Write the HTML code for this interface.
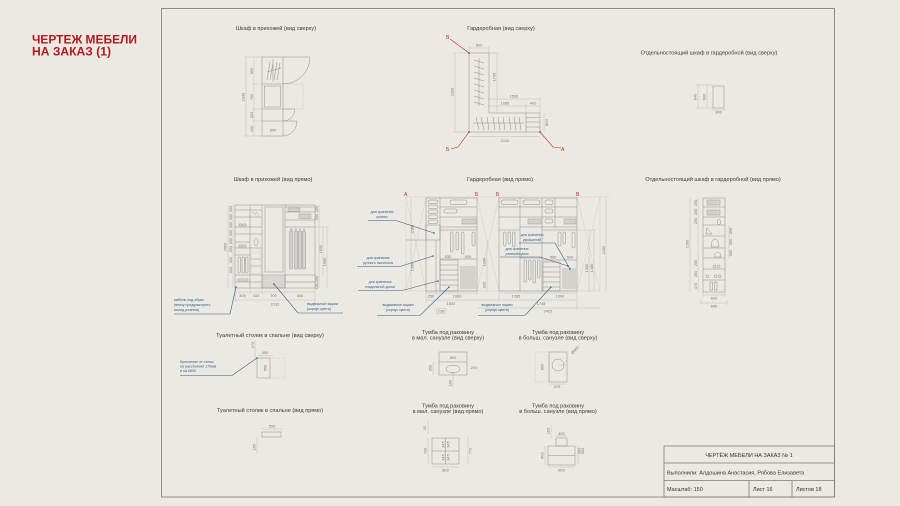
<!DOCTYPE html>
<html><head><meta charset="utf-8">
<style>
html,body{margin:0;padding:0;background:#ECE9E3;width:900px;height:506px;overflow:hidden}
svg{display:block}
.l{stroke:#8c8c8c;stroke-width:.5;fill:none}
.d{stroke:#adadad;stroke-width:.35;fill:none}
.dd{stroke:#a8a8a8;stroke-width:.35;fill:none;stroke-dasharray:1.2 1}
.g{fill:#d9d7d2;stroke:#8c8c8c;stroke-width:.4}
.t{font-family:"Liberation Sans",sans-serif;font-size:5.6px;fill:#3a3a3a}
.n{font-family:"Liberation Sans",sans-serif;font-size:3.9px;fill:#767676}
.b{stroke:#2f5d8a;stroke-width:.6;fill:none}
.bt{font-family:"Liberation Sans",sans-serif;font-size:3.6px;fill:#2f5d8a}
.r{stroke:#c0282c;stroke-width:.6;fill:none}
.rt{font-family:"Liberation Sans",sans-serif;font-size:5.2px;fill:#c0282c}
.tb{font-family:"Liberation Sans",sans-serif;font-size:5.5px;fill:#333}
</style></head><body>
<svg width="900" height="506" viewBox="0 0 900 506" xmlns="http://www.w3.org/2000/svg">
<rect x="0" y="0" width="900" height="506" fill="#ECE9E3"/>

<!-- Red title -->
<text x="32" y="43.5" font-family="Liberation Sans, sans-serif" font-weight="bold" font-size="12" fill="#B3191F" textLength="105" lengthAdjust="spacingAndGlyphs">ЧЕРТЕЖ МЕБЕЛИ</text>
<text x="32" y="55.3" font-family="Liberation Sans, sans-serif" font-weight="bold" font-size="12" fill="#B3191F" textLength="79" lengthAdjust="spacingAndGlyphs">НА ЗАКАЗ (1)</text>

<!-- Frame -->
<rect x="161.5" y="8.5" width="673" height="488.5" fill="none" stroke="#858380" stroke-width="0.9"/>

<!-- Title block -->
<g stroke="#7d7a76" stroke-width="0.8" fill="none">
<rect x="664" y="446" width="170.5" height="51"/>
<line x1="664" y1="463" x2="834.5" y2="463"/>
<line x1="664" y1="480.5" x2="834.5" y2="480.5"/>
<line x1="749" y1="480.5" x2="749" y2="497"/>
<line x1="792" y1="480.5" x2="792" y2="497"/>
</g>
<text class="tb" x="749" y="457" text-anchor="middle">ЧЕРТЁЖ МЕБЕЛИ НА ЗАКАЗ № 1</text>
<text class="tb" x="667" y="474.5">Выполнили: Алдошина Анастасия, Рябова Елизавета</text>
<text class="tb" x="667" y="491">Масштаб: 150</text>
<text class="tb" x="753" y="491">Лист 16</text>
<text class="tb" x="796" y="491">Листов 18</text>

<!-- ========== 1. Hallway wardrobe top view ========== -->
<text class="t" x="276" y="30" text-anchor="middle">Шкаф в прихожей (вид сверху)</text>
<rect class="l" x="262" y="57" width="21" height="79"/>
<line class="l" x1="262" y1="84" x2="283" y2="84"/>
<line class="l" x1="262" y1="109" x2="283" y2="109"/>
<line class="l" x1="262" y1="121" x2="283" y2="121"/>
<rect class="l" x="264.5" y="86" width="16" height="21"/>
<rect class="dd" x="283" y="84" width="20" height="25"/>
<path class="l" d="M283 57H310A27 27 0 0 1 283 84"/>
<path class="l" d="M283 109H295A12 12 0 0 1 283 121"/>
<path class="l" d="M283 121H297A14 15 0 0 1 283 136"/>
<line class="l" x1="273" y1="59" x2="273" y2="82"/>
<path class="l" d="M267 80L270 62M270 80L273 63M274 80L277 62M277 80L280 63M267 72L281 68"/>
<line class="d" x1="246" y1="57" x2="246" y2="136"/>
<line class="d" x1="254" y1="57" x2="254" y2="136"/>
<line class="d" x1="244" y1="57" x2="262" y2="57"/>
<line class="d" x1="244" y1="136" x2="262" y2="136"/>
<line class="d" x1="252" y1="84" x2="262" y2="84"/>
<line class="d" x1="252" y1="109" x2="262" y2="109"/>
<line class="d" x1="252" y1="121" x2="262" y2="121"/>
<text class="n" transform="translate(244.5,97) rotate(-90)" text-anchor="middle">2333</text>
<text class="n" transform="translate(252.8,71) rotate(-90)" text-anchor="middle">800</text>
<text class="n" transform="translate(252.8,97) rotate(-90)" text-anchor="middle">700</text>
<text class="n" transform="translate(252.8,115) rotate(-90)" text-anchor="middle">333</text>
<text class="n" transform="translate(252.8,129) rotate(-90)" text-anchor="middle">400</text>
<text class="n" x="273" y="131.5" text-anchor="middle">600</text>

<!-- ========== 2. Garderobnaya top view ========== -->
<text class="t" x="501" y="30" text-anchor="middle">Гардеробная (вид сверху)</text>
<path class="l" d="M469 53H489V113H540V132H469Z"/>
<line class="l" x1="526" y1="113" x2="526" y2="132"/>
<line class="l" x1="526" y1="117.5" x2="540" y2="117.5"/>
<line class="l" x1="526" y1="122" x2="540" y2="122"/>
<line class="l" x1="526" y1="127" x2="540" y2="127"/>
<line class="l" x1="479" y1="58" x2="479" y2="106"/>
<path class="l" d="M474 60L484 63M474 66L484 69M474 72L484 75M474 78L484 81M474 84L484 87M474 90L484 93M474 96L484 99M474 102L484 105"/>
<line class="l" x1="473" y1="123" x2="524" y2="123"/>
<path class="l" d="M476 117L479 130M481 117L484 130M487 117L489 130M493 117L495 130M498 117L500 130M503 117L505 130M509 117L511 130M514 117L516 130M519 117L521 130"/>
<line class="d" x1="469" y1="48" x2="489" y2="48"/>
<line class="d" x1="469" y1="46" x2="469" y2="53"/><line class="d" x1="489" y1="46" x2="489" y2="53"/>
<text class="n" x="479" y="46.5" text-anchor="middle">600</text>
<line class="d" x1="455" y1="53" x2="455" y2="132"/>
<line class="d" x1="453" y1="53" x2="469" y2="53"/><line class="d" x1="453" y1="132" x2="469" y2="132"/>
<text class="n" transform="translate(453.5,92) rotate(-90)" text-anchor="middle">2335</text>
<line class="d" x1="497" y1="53" x2="497" y2="113"/>
<line class="d" x1="489" y1="53" x2="499" y2="53"/>
<text class="n" transform="translate(495.5,77) rotate(-90)" text-anchor="middle">1735</text>
<line class="d" x1="488" y1="99" x2="540" y2="99"/>
<line class="d" x1="488" y1="106" x2="540" y2="106"/>
<line class="d" x1="540" y1="97" x2="540" y2="113"/>
<line class="d" x1="526" y1="104" x2="526" y2="113"/>
<text class="n" x="514" y="97.5" text-anchor="middle">1520</text>
<text class="n" x="505" y="104.5" text-anchor="middle">1080</text>
<text class="n" x="533" y="104.5" text-anchor="middle">400</text>
<line class="d" x1="544" y1="113" x2="544" y2="132"/>
<text class="n" transform="translate(548,122.5) rotate(-90)" text-anchor="middle">600</text>
<line class="d" x1="469" y1="136.5" x2="540" y2="136.5"/>
<text class="n" x="505" y="142" text-anchor="middle">2120</text>
<polyline class="r" points="450,39 469,53"/>
<polyline class="r" points="469,132 458,147 451,149"/>
<polyline class="r" points="540,132 553,147 561,148"/>
<circle cx="469" cy="53" r="0.9" fill="#c0282c"/>
<circle cx="469" cy="132" r="0.9" fill="#c0282c"/>
<circle cx="540" cy="132" r="0.9" fill="#c0282c"/>
<text class="rt" x="446" y="39" font-size="4">В</text>
<text class="rt" x="446" y="151" font-size="4">Б</text>
<text class="rt" x="561" y="151" font-size="4">А</text>

<!-- ========== 3. Freestanding top view ========== -->
<text class="t" x="709" y="54.5" text-anchor="middle">Отдельностоящий шкаф в гардеробной (вид сверху)</text>
<rect class="l" x="713" y="86" width="11" height="22"/>
<line class="d" x1="698" y1="85" x2="698" y2="108"/>
<line class="d" x1="707" y1="86" x2="707" y2="108"/>
<line class="d" x1="696" y1="85" x2="713" y2="85"/>
<line class="d" x1="696" y1="108" x2="713" y2="108"/>
<text class="n" transform="translate(696.5,97) rotate(-90)" text-anchor="middle">640</text>
<text class="n" transform="translate(705.5,97) rotate(-90)" text-anchor="middle">600</text>
<line class="d" x1="711" y1="110" x2="726" y2="110"/>
<text class="n" x="718.5" y="113.5" text-anchor="middle">300</text>

<!-- ========== 4. Hallway wardrobe front ========== -->
<text class="t" x="273" y="181" text-anchor="middle">Шкаф в прихожей (вид прямо)</text>
<rect class="g" x="262" y="275" width="23" height="13"/>
<rect class="l" x="235" y="205" width="80" height="83"/>
<line class="l" x1="250" y1="205" x2="250" y2="288"/>
<line class="l" x1="262" y1="205" x2="262" y2="288"/>
<line class="l" x1="285" y1="205" x2="285" y2="288"/>
<rect class="l" x="265" y="207" width="18" height="65"/>
<g class="l">
<line x1="235" y1="210" x2="262" y2="210"/>
<line x1="235" y1="217" x2="262" y2="217"/>
<line x1="235" y1="227" x2="262" y2="227"/>
<line x1="235" y1="234" x2="262" y2="234"/>
<line x1="235" y1="242" x2="250" y2="242"/>
<line x1="235" y1="248" x2="262" y2="248"/>
<line x1="235" y1="255" x2="250" y2="255"/>
<line x1="235" y1="275" x2="262" y2="275"/>
<line x1="235" y1="282" x2="262" y2="282"/>
<line x1="285" y1="207" x2="315" y2="207"/>
<line x1="285" y1="212" x2="315" y2="212"/>
<line x1="285" y1="220" x2="315" y2="220"/>
<line x1="285" y1="227" x2="315" y2="227"/>
<line x1="285" y1="275" x2="315" y2="275"/>
<line x1="285" y1="282" x2="315" y2="282"/>
</g>
<rect class="g" x="288" y="208" width="12" height="3.5"/>
<rect class="g" x="299" y="214" width="12" height="4.5"/>
<path class="d" d="M290 208v3.5M292 208v3.5M294 208v3.5M296 208v3.5M298 208v3.5M301 214v4.5M303 214v4.5M305 214v4.5M307 214v4.5M309 214v4.5"/>
<!-- coats -->
<g class="l">
<path d="M291 229v40M290 229h2M293.5 231l-2 -2"/>
<path d="M296 229v40M295 229h2"/>
<path d="M300 229v40M299 229h2"/>
<path d="M304 229v40M303 229h2"/>
<rect x="289.5" y="231" width="3" height="38" rx="1"/>
<rect x="294.5" y="231" width="3" height="38" rx="1"/>
<rect x="298.5" y="231" width="3" height="38" rx="1"/>
<rect x="302.5" y="231" width="3" height="38" rx="1"/>
</g>
<!-- shoes / items left -->
<g class="l">
<rect x="238" y="257" width="2.5" height="16" rx="1"/>
<rect x="242" y="257" width="2.5" height="16" rx="1"/>
<rect x="245.5" y="257" width="2.5" height="16" rx="1"/>
<path d="M239 224h3v2h-3zM243 224h3v2h-3z"/>
<path d="M239 245h3v2h-3zM243 245h3v2h-3z"/>
<path d="M252 212c2 0 3 3 4 3M256 212c1 1 2 3 3 3"/>
<ellipse cx="256" cy="242" rx="2" ry="4"/>
<rect class="dd" x="251" y="252" width="10" height="22"/>
<line x1="251" y1="259" x2="261" y2="259"/>
<line x1="251" y1="266" x2="261" y2="266"/>
<path d="M238 279h10v2h-10z"/>
</g>
<!-- dims -->
<line class="d" x1="228" y1="205" x2="228" y2="288"/>
<line class="d" x1="233" y1="205" x2="233" y2="288"/>
<text class="n" transform="translate(226.5,247) rotate(-90)" text-anchor="middle">2560</text>
<text class="n" transform="translate(231.8,209) rotate(-90)" text-anchor="middle" font-size="3.3">250</text>
<text class="n" transform="translate(231.8,217) rotate(-90)" text-anchor="middle" font-size="3.3">250</text>
<text class="n" transform="translate(231.8,225) rotate(-90)" text-anchor="middle" font-size="3.3">250</text>
<text class="n" transform="translate(231.8,233) rotate(-90)" text-anchor="middle" font-size="3.3">250</text>
<text class="n" transform="translate(231.8,241) rotate(-90)" text-anchor="middle" font-size="3.3">250</text>
<text class="n" transform="translate(231.8,249) rotate(-90)" text-anchor="middle" font-size="3.3">250</text>
<text class="n" transform="translate(231.8,260) rotate(-90)" text-anchor="middle" font-size="3.3">300</text>
<text class="n" transform="translate(231.8,270) rotate(-90)" text-anchor="middle" font-size="3.3">300</text>
<line class="d" x1="319" y1="205" x2="319" y2="288"/>
<line class="d" x1="323" y1="227" x2="323" y2="275"/>
<line class="d" x1="327" y1="227" x2="327" y2="288"/>
<line class="d" x1="315" y1="227" x2="329" y2="227"/>
<text class="n" transform="translate(318,209) rotate(-90)" text-anchor="middle" font-size="3.3">250</text>
<text class="n" transform="translate(318,217) rotate(-90)" text-anchor="middle" font-size="3.3">250</text>
<text class="n" transform="translate(322,249) rotate(-90)" text-anchor="middle" font-size="3.3">1650</text>
<text class="n" transform="translate(326,262) rotate(-90)" text-anchor="middle" font-size="3.3">1900</text>
<text class="n" transform="translate(318,279) rotate(-90)" text-anchor="middle" font-size="3.3">250</text>
<text class="n" transform="translate(318,286) rotate(-90)" text-anchor="middle" font-size="3.3">150</text>
<line class="d" x1="235" y1="292" x2="315" y2="292"/>
<line class="d" x1="235" y1="300" x2="315" y2="300"/>
<path class="d" d="M235 288v14M250 288v6M262 288v6M285 288v6M315 288v14"/>
<text class="n" x="242.5" y="297.2" text-anchor="middle">400</text>
<text class="n" x="256" y="297.2" text-anchor="middle">333</text>
<text class="n" x="273.5" y="297.2" text-anchor="middle">700</text>
<text class="n" x="300" y="297.2" text-anchor="middle">800</text>
<text class="n" x="275" y="305.3" text-anchor="middle">2133</text>
<!-- leaders -->
<text class="bt" x="174" y="301">мебель под обувь</text>
<text class="bt" x="174" y="306">(внизу предусмотреть</text>
<text class="bt" x="174" y="311">выход розетки)</text>
<polyline class="b" points="174,314 230,314 236,287"/>
<circle cx="236" cy="287" r="0.8" fill="#2f5d8a"/>
<text class="bt" x="307" y="305">выдвижные ящики</text>
<text class="bt" x="307" y="310">(корпус цвета)</text>
<polyline class="b" points="343,313 298,313 274,284"/>
<circle cx="274" cy="284" r="0.8" fill="#2f5d8a"/>

<!-- ========== 5. Garderobnaya front ========== -->
<text class="t" x="500" y="181" text-anchor="middle">Гардеробная (вид прямо)</text>
<text class="rt" x="404" y="196">А</text>
<text class="rt" x="475" y="196">Б</text>
<text class="rt" x="496" y="196">Б</text>
<text class="rt" x="576" y="196">В</text>
<line class="dd" x1="406" y1="197" x2="610" y2="197"/>
<line class="dd" x1="406" y1="197" x2="406" y2="291"/>
<line class="dd" x1="406" y1="197" x2="426" y2="291"/>
<line class="dd" x1="426" y1="197" x2="406" y2="291"/>
<line class="dd" x1="477" y1="197" x2="499" y2="291"/>
<line class="dd" x1="499" y1="197" x2="477" y2="291"/>
<line class="dd" x1="577" y1="197" x2="600" y2="291"/>
<line class="dd" x1="600" y1="197" x2="577" y2="291"/>
<line class="dd" x1="600" y1="197" x2="600" y2="291"/>
<line class="dd" x1="406" y1="291" x2="600" y2="291"/>
<line class="l" x1="406" y1="240" x2="426" y2="240"/>
<!-- left unit -->
<rect class="l" x="426" y="198" width="51" height="93"/>
<line class="l" x1="440" y1="198" x2="440" y2="291"/>
<rect class="l" x="426" y="225" width="14" height="15"/>
<line class="l" x1="436" y1="240" x2="436" y2="291"/>
<g class="l">
<rect x="428" y="200" width="10" height="3.5" rx="1.5"/>
<rect x="428" y="205" width="10" height="3.5" rx="1.5"/>
<rect x="428" y="210" width="10" height="3.5" rx="1.5"/>
<rect x="428" y="215" width="10" height="3.5" rx="1.5"/>
<rect x="428" y="220" width="10" height="3.5" rx="1.5"/>
<line x1="440" y1="207" x2="477" y2="207"/>
<line x1="440" y1="217" x2="477" y2="217"/>
<line x1="440" y1="227" x2="477" y2="227"/>
<line x1="440" y1="230" x2="477" y2="230"/>
<rect x="450" y="200" width="17" height="4.5" rx="2"/>
<rect x="444" y="209" width="13" height="4" rx="1.5"/>
<line x1="440" y1="259" x2="477" y2="259"/>
<rect x="440" y="260" width="18" height="31"/>
<line x1="440" y1="265" x2="458" y2="265"/>
<line x1="440" y1="270" x2="458" y2="270"/>
<line x1="440" y1="275" x2="458" y2="275"/>
<line x1="440" y1="280" x2="458" y2="280"/>
<line x1="440" y1="285" x2="458" y2="285"/>
<rect x="450.5" y="232" width="2.5" height="20" rx="1"/>
<rect x="456" y="232" width="2.5" height="18" rx="1"/>
<rect x="461.5" y="232" width="2.5" height="22" rx="1"/>
<rect x="472" y="232" width="3" height="14" rx="1.3"/>
</g>
<rect class="g" x="462" y="219" width="14" height="5"/>
<path class="d" d="M464 219v5M466 219v5M468 219v5M470 219v5M472 219v5M474 219v5"/>
<path class="l" d="M461 266v23M463 266v23M465 266v23M467 266v23M469 266v23M471 266v23M473 266v23M475 266v23"/>
<!-- right unit -->
<rect class="l" x="499" y="198" width="78" height="93"/>
<line class="l" x1="520" y1="198" x2="520" y2="291"/>
<line class="l" x1="542" y1="198" x2="542" y2="291"/>
<g class="l">
<line x1="499" y1="207" x2="577" y2="207"/>
<line x1="499" y1="217" x2="577" y2="217"/>
<line x1="520" y1="227" x2="577" y2="227"/>
<line x1="499" y1="230" x2="520" y2="230"/>
<line x1="542" y1="230" x2="577" y2="230"/>
<line x1="520" y1="258" x2="542" y2="258"/>
<line x1="555" y1="198" x2="555" y2="227"/>
<rect x="501" y="200" width="17" height="4.5" rx="2"/>
<rect x="523" y="200" width="17" height="4.5" rx="2"/>
<rect x="545" y="200" width="8" height="4.5" rx="1.5"/>
<rect x="545" y="209" width="8" height="4" rx="1.5"/>
<rect x="545" y="219" width="8" height="4" rx="1.5"/>
<rect x="503.5" y="232" width="2.5" height="14" rx="1"/>
<rect x="508" y="232" width="2.5" height="12" rx="1"/>
<rect x="512.5" y="232" width="2.5" height="15" rx="1"/>
<rect x="524" y="260" width="2.5" height="22" rx="1"/>
<rect x="528.5" y="260" width="2.5" height="20" rx="1"/>
<rect x="533" y="260" width="2.5" height="23" rx="1"/>
<rect x="537.5" y="260" width="2.5" height="18" rx="1"/>
<rect x="558" y="232" width="3" height="14" rx="1.3"/>
<rect x="563" y="232" width="2.5" height="12" rx="1"/>
<rect x="572" y="232" width="3" height="16" rx="1.3"/>
<line x1="542" y1="260" x2="577" y2="260"/>
<rect x="543" y="262" width="17" height="29"/>
<line x1="543" y1="267" x2="560" y2="267"/>
<line x1="543" y1="272" x2="560" y2="272"/>
<line x1="543" y1="277" x2="560" y2="277"/>
<line x1="543" y1="282" x2="560" y2="282"/>
<line x1="543" y1="287" x2="560" y2="287"/>
</g>
<rect class="g" x="528" y="219" width="13" height="5"/>
<rect class="g" x="564" y="219" width="12" height="5"/>
<path class="d" d="M530 219v5M532 219v5M534 219v5M536 219v5M538 219v5M566 219v5M568 219v5M570 219v5M572 219v5M574 219v5"/>
<path class="l" d="M563 268v21M565 268v21M567 268v21M569 268v21M571 268v21M573 268v21M575 268v21"/>
<!-- dims garderobnaya front -->
<line class="d" x1="426" y1="293" x2="477" y2="293"/>
<line class="d" x1="426" y1="300" x2="499" y2="300"/>
<path class="d" d="M426 291v11M436 291v4M477 291v4"/>
<text class="n" x="431" y="297.5" text-anchor="middle">250</text>
<text class="n" x="457" y="297.5" text-anchor="middle">1060</text>
<text class="n" x="451" y="305" text-anchor="middle">1520</text>
<rect class="d" x="436.5" y="308.5" width="9" height="5"/>
<text class="n" x="441" y="312.5" text-anchor="middle">730</text>
<line class="d" x1="499" y1="293" x2="577" y2="293"/>
<line class="d" x1="499" y1="300" x2="577" y2="300"/>
<line class="d" x1="477" y1="308" x2="600" y2="308"/>
<path class="d" d="M499 291v11M542 291v4M577 291v19"/>
<text class="n" x="516" y="297.5" text-anchor="middle">1285</text>
<text class="n" x="560" y="297.5" text-anchor="middle">1000</text>
<text class="n" x="541" y="305" text-anchor="middle">1745</text>
<text class="n" x="548" y="312.5" text-anchor="middle">2425</text>
<text class="n" x="448" y="258" text-anchor="middle" font-size="3.4">530</text>
<text class="n" x="468" y="258" text-anchor="middle" font-size="3.4">530</text>
<text class="n" x="553" y="258.5" text-anchor="middle" font-size="3.4">500</text>
<text class="n" x="570" y="258.5" text-anchor="middle" font-size="3.4">500</text>
<line class="d" x1="411" y1="198" x2="411" y2="291"/>
<text class="n" transform="translate(413.5,229) rotate(-90)" text-anchor="middle">2160</text>
<text class="n" transform="translate(413.5,267) rotate(-90)" text-anchor="middle">1390</text>
<line class="d" x1="487" y1="240" x2="487" y2="291"/>
<text class="n" transform="translate(485.5,262) rotate(-90)" text-anchor="middle">1390</text>
<text class="n" transform="translate(485.5,285) rotate(-90)" text-anchor="middle">920</text>
<line class="d" x1="589" y1="230" x2="589" y2="291"/>
<line class="d" x1="594" y1="230" x2="594" y2="291"/>
<line class="d" x1="606" y1="198" x2="606" y2="291"/>
<line class="d" x1="577" y1="230" x2="596" y2="230"/>
<text class="n" transform="translate(588,268) rotate(-90)" text-anchor="middle">1390</text>
<text class="n" transform="translate(593,268) rotate(-90)" text-anchor="middle">1480</text>
<text class="n" transform="translate(605,250) rotate(-90)" text-anchor="middle">2160</text>
<!-- leaders garderobnaya -->
<text class="bt" x="382" y="213" text-anchor="middle">для хранения</text>
<text class="bt" x="382" y="218" text-anchor="middle">шляпы</text>
<polyline class="b" points="368,220.5 396,220.5 434,233"/>
<circle cx="434" cy="233" r="0.8" fill="#2f5d8a"/>
<text class="bt" x="378" y="259" text-anchor="middle">для хранения</text>
<text class="bt" x="378" y="264" text-anchor="middle">ручного пылесоса</text>
<polyline class="b" points="357,266.5 400,266.5 433,256"/>
<circle cx="433" cy="256" r="0.8" fill="#2f5d8a"/>
<text class="bt" x="380" y="283" text-anchor="middle">для хранения</text>
<text class="bt" x="380" y="288" text-anchor="middle">гладильной доски</text>
<polyline class="b" points="358,290.5 402,290.5 438,281"/>
<circle cx="438" cy="281" r="0.8" fill="#2f5d8a"/>
<text class="bt" x="398" y="306" text-anchor="middle">выдвижные ящики</text>
<text class="bt" x="398" y="311" text-anchor="middle">(корпус цвета)</text>
<polyline class="b" points="377,315.5 420,315.5 449,287"/>
<circle cx="449" cy="287" r="0.8" fill="#2f5d8a"/>
<text class="bt" x="497" y="306" text-anchor="middle">выдвижные ящики</text>
<text class="bt" x="497" y="311" text-anchor="middle">(корпус цвета)</text>
<polyline class="b" points="478,315.5 525,315.5 551,287"/>
<circle cx="551" cy="287" r="0.8" fill="#2f5d8a"/>
<text class="bt" x="532" y="236" text-anchor="middle">для хранения</text>
<text class="bt" x="532" y="241" text-anchor="middle">украшений</text>
<polyline class="b" points="519,243 555,243 570,269"/>
<circle cx="570" cy="269" r="0.8" fill="#2f5d8a"/>
<text class="bt" x="517" y="250" text-anchor="middle">для хранения</text>
<text class="bt" x="517" y="255" text-anchor="middle">ремней/сумок</text>
<polyline class="b" points="500,257 540,257 568,266"/>
<circle cx="568" cy="266" r="0.8" fill="#2f5d8a"/>

<!-- ========== 6. Freestanding front ========== -->
<text class="t" x="713" y="181" text-anchor="middle">Отдельностоящий шкаф в гардеробной (вид прямо)</text>
<rect class="l" x="703" y="198" width="22" height="94"/>
<g class="l">
<line x1="703" y1="207" x2="725" y2="207"/>
<line x1="703" y1="217" x2="725" y2="217"/>
<line x1="703" y1="225" x2="725" y2="225"/>
<line x1="703" y1="236" x2="725" y2="236"/>
<line x1="703" y1="248" x2="725" y2="248"/>
<line x1="703" y1="258" x2="725" y2="258"/>
<line x1="703" y1="269" x2="725" y2="269"/>
<line x1="703" y1="280" x2="725" y2="280"/>
<ellipse cx="719" cy="222" rx="1.8" ry="2.5"/>
<path d="M706 234l1-6 5 6z"/>
<path d="M711 247c0-5 2-8 4-8s4 3 4 8z"/>
<path d="M714 257c0-3 2-5 3.5-5s3.5 2 3.5 5z"/>
<rect x="713" y="265" width="3" height="2.5" rx="1"/>
<rect x="717" y="265" width="3" height="2.5" rx="1"/>
<rect x="706" y="275" width="3" height="2.5" rx="1"/>
<rect x="714" y="275" width="3" height="2.5" rx="1"/>
<rect x="718" y="275" width="3" height="2.5" rx="1"/>
<rect x="710" y="282" width="2.5" height="8"/>
<rect x="714.5" y="282" width="2.5" height="8"/>
</g>
<rect class="g" x="707" y="200" width="13" height="5"/>
<rect class="g" x="707" y="210" width="13" height="5"/>
<path class="d" d="M709 200v5M711 200v5M713 200v5M715 200v5M717 200v5M709 210v5M711 210v5M713 210v5M715 210v5M717 210v5"/>
<line class="d" x1="690" y1="198" x2="690" y2="292"/>
<line class="d" x1="698" y1="198" x2="698" y2="292"/>
<text class="n" transform="translate(688.5,244) rotate(-90)" text-anchor="middle">2160</text>
<text class="n" transform="translate(697,203) rotate(-90)" text-anchor="middle" font-size="3.3">250</text>
<text class="n" transform="translate(697,212) rotate(-90)" text-anchor="middle" font-size="3.3">250</text>
<text class="n" transform="translate(697,221) rotate(-90)" text-anchor="middle" font-size="3.3">250</text>
<text class="n" transform="translate(697,263) rotate(-90)" text-anchor="middle" font-size="3.3">250</text>
<text class="n" transform="translate(697,274) rotate(-90)" text-anchor="middle" font-size="3.3">250</text>
<text class="n" transform="translate(697,286) rotate(-90)" text-anchor="middle" font-size="3.3">470</text>
<line class="d" x1="729" y1="225" x2="729" y2="258"/>
<text class="n" transform="translate(732,231) rotate(-90)" text-anchor="middle" font-size="3.3">300</text>
<text class="n" transform="translate(732,242) rotate(-90)" text-anchor="middle" font-size="3.3">300</text>
<text class="n" transform="translate(732,253) rotate(-90)" text-anchor="middle" font-size="3.3">300</text>
<line class="d" x1="703" y1="295" x2="725" y2="295"/>
<line class="d" x1="701" y1="303" x2="727" y2="303"/>
<path class="d" d="M703 292v5M725 292v5M701 300v5M727 300v5"/>
<text class="n" x="714" y="299.5" text-anchor="middle">600</text>
<text class="n" x="714" y="307.5" text-anchor="middle">640</text>

<!-- ========== 7. Dressing table top ========== -->
<text class="t" x="270" y="337" text-anchor="middle">Туалетный столик в спальне (вид сверху)</text>
<rect class="l" x="257" y="358" width="13" height="20"/>
<rect class="dd" x="270" y="358" width="15" height="20"/>
<line class="d" x1="257" y1="355.5" x2="273" y2="355.5"/>
<text class="n" x="265" y="354" text-anchor="middle">400</text>
<text class="n" transform="translate(266.5,368) rotate(-90)" text-anchor="middle">550</text>
<line class="d" x1="255" y1="340" x2="255" y2="358"/>
<text class="n" transform="translate(254,345) rotate(-90)" text-anchor="middle">170</text>
<text class="bt" x="180" y="363">Крепление от стены</text>
<text class="bt" x="180" y="367.5">на расстоянии 170мм</text>
<text class="bt" x="180" y="372">и на h600</text>
<polyline class="b" points="180,375.5 232,375.5 257,358"/>
<circle cx="257" cy="358" r="0.8" fill="#2f5d8a"/>

<!-- ========== 8. Dressing table front ========== -->
<text class="t" x="270" y="412" text-anchor="middle">Туалетный столик в спальне (вид прямо)</text>
<rect class="l" x="262" y="432" width="19" height="5"/>
<line class="d" x1="262" y1="429" x2="283" y2="429"/>
<text class="n" x="272" y="427.5" text-anchor="middle">550</text>
<line class="d" x1="257" y1="437" x2="257" y2="454"/>
<text class="n" transform="translate(255.5,447) rotate(-90)" text-anchor="middle">150</text>

<!-- ========== 9. Sink small top ========== -->
<text class="t" x="448" y="334" text-anchor="middle">Тумба под раковину</text>
<text class="t" x="448" y="339.5" text-anchor="middle">в мал. санузле (вид сверху)</text>
<rect class="l" x="439" y="352" width="28" height="23"/>
<line class="l" x1="439" y1="362" x2="467" y2="362"/>
<ellipse class="l" cx="453" cy="369" rx="7" ry="3.8"/>
<circle cx="453" cy="373" r="0.6" fill="#777"/>
<text class="n" x="453" y="359" text-anchor="middle">800</text>
<line class="d" x1="433" y1="362" x2="433" y2="375"/>
<text class="n" transform="translate(431.5,368) rotate(-90)" text-anchor="middle">350</text>
<text class="n" x="474" y="369" text-anchor="middle">200</text>
<line class="d" x1="453" y1="375" x2="453" y2="388"/>
<text class="n" transform="translate(451.5,383) rotate(-90)" text-anchor="middle">150</text>

<!-- ========== 10. Sink big top ========== -->
<text class="t" x="558" y="334" text-anchor="middle">Тумба под раковину</text>
<text class="t" x="558" y="339.5" text-anchor="middle">в больш. санузле (вид сверху)</text>
<rect class="dd" x="535" y="352" width="14" height="30"/>
<rect class="l" x="549" y="352" width="18" height="30"/>
<circle class="l" cx="558" cy="365" r="6"/>
<path class="d" d="M558 365h8M562 365l5-5"/>
<text class="n" transform="translate(576,351) rotate(-45)" text-anchor="middle">Ø400</text>
<text class="n" transform="translate(543.5,367) rotate(-90)" text-anchor="middle">800</text>
<line class="d" x1="549" y1="384" x2="567" y2="384"/>
<text class="n" x="557" y="388" text-anchor="middle">470</text>

<!-- ========== 11. Sink small front ========== -->
<text class="t" x="448" y="407.5" text-anchor="middle">Тумба под раковину</text>
<text class="t" x="448" y="413" text-anchor="middle">в мал. санузле (вид прямо)</text>
<rect class="l" x="432" y="438" width="27" height="26"/>
<line class="l" x1="432" y1="451" x2="459" y2="451"/>
<line class="l" x1="445.5" y1="438" x2="445.5" y2="464"/>
<text class="n" transform="translate(444.5,444.5) rotate(-90)" text-anchor="middle" font-size="3.3">345</text>
<text class="n" transform="translate(444.5,457.5) rotate(-90)" text-anchor="middle" font-size="3.3">345</text>
<text class="n" transform="translate(449.5,444.5) rotate(-90)" text-anchor="middle" font-size="3.3">345</text>
<text class="n" transform="translate(449.5,457.5) rotate(-90)" text-anchor="middle" font-size="3.3">345</text>
<line class="d" x1="428" y1="438" x2="428" y2="464"/>
<text class="n" transform="translate(426.5,451) rotate(-90)" text-anchor="middle">730</text>
<line class="d" x1="468" y1="436" x2="468" y2="464"/>
<text class="n" transform="translate(471.5,451) rotate(-90)" text-anchor="middle">770</text>
<line class="d" x1="428" y1="420" x2="428" y2="434"/>
<text class="n" transform="translate(426,428) rotate(-90)" text-anchor="middle">40</text>
<line class="d" x1="432" y1="467" x2="459" y2="467"/>
<text class="n" x="445.5" y="471.5" text-anchor="middle">800</text>

<!-- ========== 12. Sink big front ========== -->
<text class="t" x="558" y="407.5" text-anchor="middle">Тумба под раковину</text>
<text class="t" x="558" y="413" text-anchor="middle">в больш. санузле (вид прямо)</text>
<rect class="l" x="548" y="446" width="27" height="19"/>
<line class="l" x1="548" y1="455.5" x2="575" y2="455.5"/>
<rect class="l" x="556" y="438" width="11" height="8"/>
<line class="d" x1="556" y1="436" x2="567" y2="436"/>
<text class="n" x="561.5" y="435" text-anchor="middle">400</text>
<line class="d" x1="551" y1="425" x2="551" y2="438"/>
<text class="n" transform="translate(549.5,431) rotate(-90)" text-anchor="middle">165</text>
<line class="d" x1="545" y1="446" x2="545" y2="465"/>
<text class="n" transform="translate(543.5,455.5) rotate(-90)" text-anchor="middle">600</text>
<line class="d" x1="578" y1="446" x2="578" y2="465"/>
<text class="n" transform="translate(580.5,451) rotate(-90)" text-anchor="middle" font-size="3.3">300</text>
<text class="n" transform="translate(584,451) rotate(-90)" text-anchor="middle" font-size="3.3">300</text>
<line class="d" x1="548" y1="467" x2="575" y2="467"/>
<text class="n" x="561.5" y="471.5" text-anchor="middle">800</text>

</svg>
</body></html>
